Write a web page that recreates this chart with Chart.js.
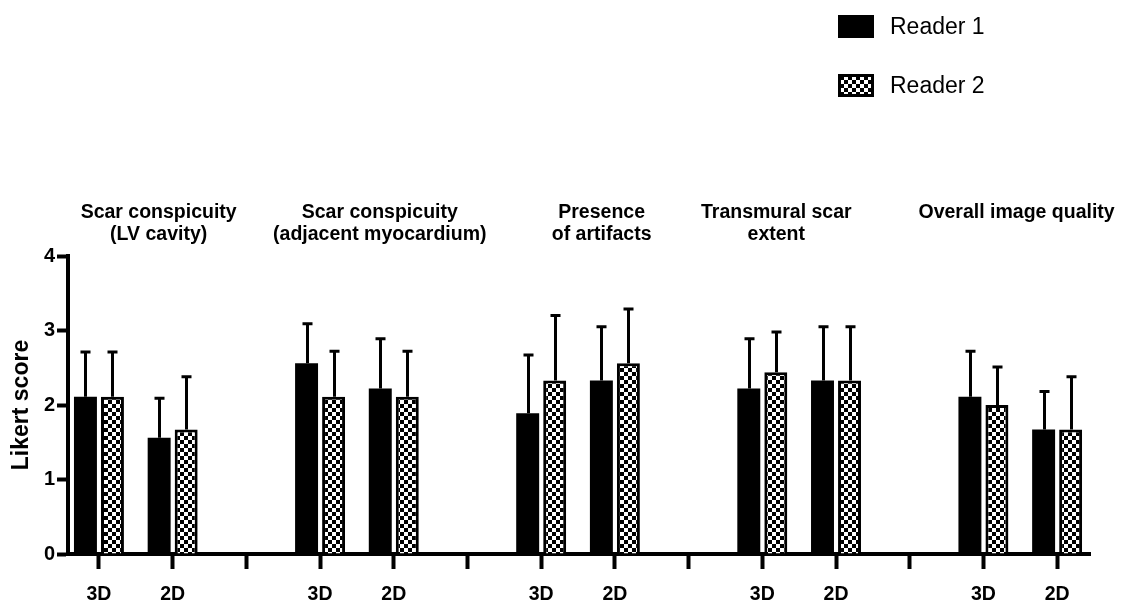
<!DOCTYPE html>
<html>
<head>
<meta charset="utf-8">
<title>Likert scores by reader</title>
<script src="https://cdn.jsdelivr.net/npm/chart.js@4/dist/chart.umd.min.js"></script>
<style>
  html, body { margin: 0; padding: 0; background: #fff; }
  #wrap { width: 1125px; height: 604px; position: relative; }
</style>
</head>
<body>
<div id="wrap"><canvas id="c"></canvas></div>
<script>
// Category slots along the x axis (blank slots separate the five criteria)
const xLabels = ['3D', '2D', '', '3D', '2D', '', '3D', '2D', '', '3D', '2D', '', '3D', '2D'];

// Criteria shown above each pair of slots
const groupTitles = [
  ['Scar conspicuity', '(LV cavity)'],
  ['Scar conspicuity', '(adjacent myocardium)'],
  ['Presence', 'of artifacts'],
  ['Transmural scar', 'extent'],
  ['Overall image quality']
];

// Mean Likert score and standard deviation per slot
const reader1Mean = [2.11, 1.56, null, 2.56, 2.22, null, 1.89, 2.33, null, 2.22, 2.33, null, 2.11, 1.67];
const reader1SD   = [0.60, 0.53, null, 0.53, 0.67, null, 0.78, 0.72, null, 0.67, 0.72, null, 0.61, 0.51];
const reader2Mean = [2.11, 1.67, null, 2.11, 2.11, null, 2.33, 2.56, null, 2.44, 2.33, null, 2.00, 1.67];
const reader2SD   = [0.60, 0.71, null, 0.61, 0.61, null, 0.87, 0.73, null, 0.54, 0.72, null, 0.51, 0.71];

const yTicks = [0, 1, 2, 3, 4];
const seriesNames = ['Reader 1', 'Reader 2'];

const FONT = '"Liberation Sans", Arial, Helvetica, sans-serif';

// Black/white checkerboard fill
function makeChecker(cell) {
  const c = document.createElement('canvas');
  c.width = cell * 2; c.height = cell * 2;
  const g = c.getContext('2d');
  g.fillStyle = '#000';
  g.fillRect(0, 0, c.width, c.height);
  g.fillStyle = '#fff';
  g.fillRect(0, 0, cell, cell);
  g.fillRect(cell, cell, cell, cell);
  return g.createPattern(c, 'repeat');
}
const checker = makeChecker(4);

const toPoints = (arr) => arr.map((v, i) => ({ x: i, y: v }));

// Vertical error whiskers (mean + SD) with a short cap
const errorBars = {
  id: 'errorBars',
  afterDatasetsDraw(chart) {
    const ctx = chart.ctx;
    const y = chart.scales.y;
    const sds = [reader1SD, reader2SD];
    const means = [reader1Mean, reader2Mean];
    ctx.save();
    ctx.strokeStyle = '#000';
    ctx.lineWidth = 3;
    ctx.lineCap = 'butt';
    chart.data.datasets.forEach((ds, di) => {
      const meta = chart.getDatasetMeta(di);
      meta.data.forEach((bar, i) => {
        const m = means[di][i], sd = sds[di][i];
        if (m == null || sd == null) return;
        const x = Math.round(bar.x) + 0.5;
        const yTop = y.getPixelForValue(m + sd);
        ctx.beginPath();
        ctx.moveTo(x, bar.y);
        ctx.lineTo(x, yTop);
        ctx.moveTo(x - 5, yTop);
        ctx.lineTo(x + 5, yTop);
        ctx.stroke();
      });
    });
    ctx.restore();
  }
};

// Criterion headings placed above the plot
const groupHeadings = {
  id: 'groupHeadings',
  afterDraw(chart, args, opts) {
    const ctx = chart.ctx;
    const x = chart.scales.x;
    ctx.save();
    ctx.fillStyle = '#000';
    ctx.font = 'bold 19.5px ' + FONT;
    ctx.textAlign = 'center';
    ctx.textBaseline = 'alphabetic';
    groupTitles.forEach((lines, gi) => {
      const cx = x.getPixelForValue(opts.anchors[gi]);
      lines.forEach((t, li) => ctx.fillText(t, cx, opts.firstBaseline + li * opts.lineGap));
    });
    ctx.restore();
  }
};

// Stacked legend at the upper right
const sideLegend = {
  id: 'sideLegend',
  afterDraw(chart, args, opts) {
    const ctx = chart.ctx;
    ctx.save();
    seriesNames.forEach((name, i) => {
      const top = opts.top + i * opts.step;
      ctx.fillStyle = '#000';
      ctx.fillRect(opts.left, top, opts.boxW, opts.boxH);
      if (i === 1) {
        ctx.fillStyle = checker;
        ctx.fillRect(opts.left + 3, top + 3, opts.boxW - 6, opts.boxH - 6);
      }
      ctx.fillStyle = '#000';
      ctx.font = '23px ' + FONT;
      ctx.textBaseline = 'middle';
      ctx.textAlign = 'left';
      ctx.fillText(name, opts.textX, top + opts.boxH / 2 + 1);
    });
    ctx.restore();
  }
};

new Chart(document.getElementById('c'), {
  type: 'bar',
  data: {
    datasets: [
      {
        label: seriesNames[0],
        data: toPoints(reader1Mean),
        backgroundColor: '#000',
        borderWidth: 0,
        categoryPercentage: 0.733,
        barPercentage: 0.85
      },
      {
        label: seriesNames[1],
        data: toPoints(reader2Mean),
        backgroundColor: checker,
        borderColor: '#000',
        borderWidth: 3,
        borderSkipped: 'start',
        categoryPercentage: 0.733,
        barPercentage: 0.85
      }
    ]
  },
  options: {
    responsive: true,
    maintainAspectRatio: false,
    animation: false,
    layout: { padding: { left: 0, right: 35, top: 256, bottom: 0 } },
    plugins: {
      legend: { display: false },
      title: { display: false },
      tooltip: { enabled: false },
      groupHeadings: { anchors: [0.81, 3.81, 6.82, 9.19, 12.45], firstBaseline: 218, lineGap: 22 },
      sideLegend: { left: 838, top: 15, step: 59, boxW: 36, boxH: 23, textX: 890 }
    },
    scales: {
      x: {
        type: 'linear',
        min: -0.42,
        max: 13.446,
        bounds: 'data',
        offset: false,
        grid: { offset: false, drawOnChartArea: false, tickLength: 15, tickWidth: 4, tickColor: '#000' },
        border: { display: true, width: 4, color: '#000' },
        afterBuildTicks: (s) => { s.ticks = xLabels.map((_, i) => ({ value: i })); },
        ticks: {
          autoSkip: false,
          maxRotation: 0,
          padding: 14,
          color: '#000',
          font: { family: FONT, size: 19.5, weight: 'bold' },
          callback: (v) => (xLabels[v] !== undefined ? xLabels[v] : '')
        },
        afterFit: (s) => { s.height = 50; }
      },
      y: {
        min: 0,
        max: 4,
        grid: { drawOnChartArea: false, tickLength: 11, tickWidth: 4, tickColor: '#000' },
        border: { display: true, width: 4, color: '#000' },
        afterBuildTicks: (s) => { s.ticks = yTicks.map((v) => ({ value: v })); },
        ticks: {
          padding: 2,
          color: '#000',
          font: { family: FONT, size: 20, weight: 'bold' }
        },
        title: {
          display: true,
          text: 'Likert score',
          color: '#000',
          font: { family: FONT, size: 23, weight: 'bold', lineHeight: 1.2 },
          padding: { top: 8, bottom: 0 }
        },
        afterFit: (s) => { s.width = 68; }
      }
    }
  },
  plugins: [errorBars, groupHeadings, sideLegend]
});
</script>
</body>
</html>
